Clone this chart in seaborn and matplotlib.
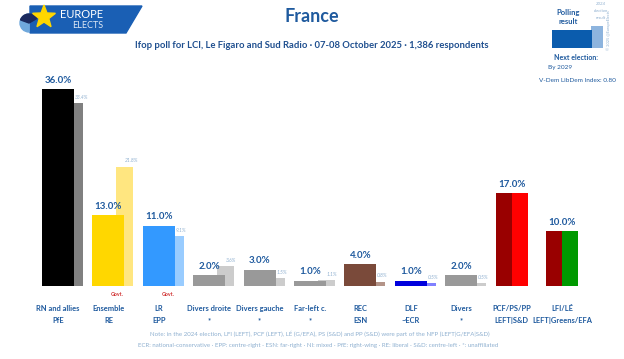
import numpy as np
import pandas as pd
import matplotlib.pyplot as plt
import matplotlib.patches as mpatches
import seaborn as sns

# Dados da sondagem
partidos = ["RN and allies", "Ensemble", "LR", "Divers droite", "Divers gauche", "Far-left c.",
            "REC", "DLF", "Divers", "PCF/PS/PP", "LFI/LÉ"]
grupos = ["PfE", "RE", "EPP", "*", "*", "*", "ESN", "~ECR", "*", "LEFT|S&D", "LEFT|Greens/EFA"]
sondagem = [36.0, 13.0, 11.0, 2.0, 3.0, 1.0, 4.0, 1.0, 2.0, 17.0, 10.0]
eleicao_2024 = [33.4, 21.8, 9.1, 3.6, 1.5, 1.1, 0.8, 0.5, 0.5, None, None]
governo = ["Ensemble", "LR"]

cores = ["#000000", "#FFD700", "#3399FF", "#999999", "#999999", "#999999",
         "#7A4A3A", "#0000DD", "#999999", "#990000", "#990000"]
cores_2024 = ["#808080", "#FFE680", "#99CCFF", "#CCCCCC", "#CCCCCC", "#CCCCCC",
              "#B39488", "#8080FF", "#CCCCCC", None, None]
metade_direita = {"PCF/PS/PP": "#FF0000", "LFI/LÉ": "#009900"}

sns.set_style("white")
plt.rcParams['font.family'] = ['Lato', 'DejaVu Sans']

azul = "#1F5A9E"
azul_claro = "#8FB0D0"

W, H = 624, 359
fig = plt.figure(figsize=(W / 100, H / 100), dpi=100)
ax = fig.add_axes([0, 0, 1, 1])

df = pd.DataFrame({"partido": partidos, "valor": sondagem})
sns.barplot(data=df, x="partido", y="valor", hue="partido", palette=cores,
            legend=False, width=0.635, ax=ax, saturation=1, linewidth=0)
for p in ax.patches:
    p.set_zorder(2)
    p.set_linewidth(0)

larg = 0.635
for i, (v, c) in enumerate(zip(eleicao_2024, cores_2024)):
    if v is None:
        continue
    ax.bar(i + 0.327, v, width=0.337, color=c, zorder=1, linewidth=0)
    ax.text(i + 0.33, v + 0.6, f"{v:.1f}%", fontsize=3.6, style='italic',
            color=azul_claro, ha='left', va='bottom', zorder=3)

for i, p in enumerate(partidos):
    if p in metade_direita:
        ax.bar(i + larg / 4, sondagem[i], width=larg / 2, color=metade_direita[p],
               zorder=2, linewidth=0)
    ax.text(i, sondagem[i] + 0.8, f"{sondagem[i]:.1f}%", fontsize=7, fontweight='bold',
            color=azul, ha='center', va='bottom', zorder=3)
    ax.text(i, -4.2, p, fontsize=5.4, fontweight='bold', color=azul, ha='center', va='center')
    ax.text(i, -6.4, grupos[i], fontsize=5.4, fontweight='bold', color=azul, ha='center', va='center')
    if p in governo:
        ax.text(i + 0.18, -1.6, "Govt.", fontsize=3.8, fontweight='bold', color="#D03030",
                ha='center', va='center')

ax.set_xlim(-1.151, 11.230)
ax.set_ylim(-13.35, 52.29)
ax.axis('off')


def px(x, y):
    return x / W, 1 - y / H


# Titulos
fig.text(*px(312, 16), "France", fontsize=13, fontweight='bold', color=azul, ha='center', va='center')
fig.text(*px(312, 45), "Ifop poll for LCI, Le Figaro and Sud Radio · 07-08 October 2025 · 1,386 respondents",
         fontsize=6.8, fontweight='bold', color="#1F4F8F", ha='center', va='center')

# Notas
fig.text(*px(320, 334), "Note: in the 2024 election, LFI (LEFT), PCF (LEFT), LÉ (G/EFA), PS (S&D) and PP (S&D) "
         "were part of the NFP (LEFT|G/EFA|S&D)", fontsize=4.4, color=azul_claro, ha='center', va='center')
fig.text(*px(318, 346), "ECR: national-conservative · EPP: centre-right · ESN: far-right · NI: mixed · "
         "PfE: right-wing · RE: liberal · S&D: centre-left · *: unaffiliated",
         fontsize=4.4, color=azul_claro, ha='center', va='center')

# Logo
ax_logo = fig.add_axes([0, 1 - 40 / H, 150 / W, 40 / H])
ax_logo.set_xlim(0, 150)
ax_logo.set_ylim(40, 0)
ax_logo.axis('off')
ax_logo.add_patch(mpatches.Polygon([(30, 6), (142, 6), (126, 33), (30, 33)], color="#1A5FB4"))
ax_logo.add_patch(mpatches.Wedge((29, 23), 9, 90, 270, color="#6FA8DC"))
ax_logo.add_patch(mpatches.Wedge((29, 23), 9, 200, 330, color="#1B2A5E"))
ang = np.linspace(-np.pi / 2, 1.5 * np.pi, 11)[:-1]
rad = np.where(np.arange(10) % 2 == 0, 12, 5)
ax_logo.add_patch(mpatches.Polygon(np.c_[44 + rad * np.cos(ang), 17 + rad * np.sin(ang)], color="#FFD700"))
ax_logo.text(82, 14, "EUROPE", fontsize=8, color="white", ha='center', va='center')
ax_logo.text(88, 26, "ELECTS", fontsize=6.5, color="#DDE8F5", ha='center', va='center')

# Legenda do canto
ax_leg = fig.add_axes([540 / W, 1 - 90 / H, 84 / W, 90 / H])
ax_leg.set_xlim(540, 624)
ax_leg.set_ylim(90, 0)
ax_leg.axis('off')
ax_leg.add_patch(mpatches.Rectangle((591, 26), 12, 22, color="#8DB4DE", linewidth=0))
ax_leg.add_patch(mpatches.Rectangle((552, 30), 40, 18, color="#0B5CAD", linewidth=0))
ax_leg.text(568, 12, "Polling", fontsize=5.5, fontweight='bold', color=azul, ha='center', va='center')
ax_leg.text(568, 21, "result", fontsize=5.5, fontweight='bold', color=azul, ha='center', va='center')
for k, t in enumerate(["2024", "election", "result"]):
    ax_leg.text(601, 4 + 7 * k, t, fontsize=3.2, style='italic', color=azul_claro, ha='center', va='center')
ax_leg.text(609, 30, "© 2025 @EuropeElects", fontsize=2.8, color=azul_claro, rotation=90,
            ha='center', va='center')
ax_leg.text(576, 57, "Next election:", fontsize=5, fontweight='bold', color=azul, ha='center', va='center')
ax_leg.text(548, 67, "By 2029", fontsize=4.6, color=azul, ha='left', va='center')
ax_leg.text(577, 80, "V-Dem LibDem Index: 0.80", fontsize=4.6, color=azul, ha='center', va='center')

fig.savefig("out.png", dpi=100)
